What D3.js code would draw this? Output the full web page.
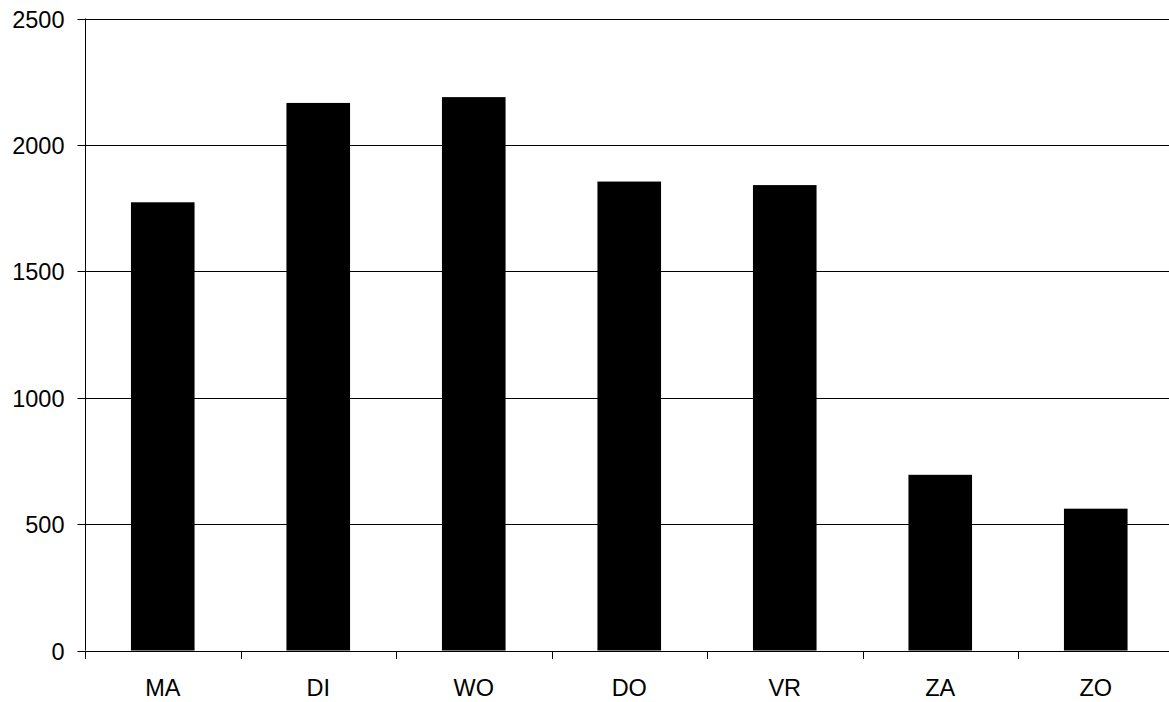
<!DOCTYPE html>
<html><head><meta charset="utf-8">
<script src="https://cdn.jsdelivr.net/npm/d3@7"></script>
<style>html,body{margin:0;padding:0;background:#fff;}svg{display:block;}</style>
</head><body>
<svg id="c" width="1169" height="702"></svg>
<script>
const categories = ["MA","DI","WO","DO","VR","ZA","ZO"];
const values = [1773, 2166, 2189, 1855, 1841, 695, 561];
const yTicks = [0, 500, 1000, 1500, 2000, 2500];

(function () {
const svg = d3.select("#c");
const mLeft = 85, mTop = 18.5, mBottom = 650.5, mRight = 85 + 155.5 * 7;
const font = "Liberation Sans, Arial, sans-serif";
const fs = 23.5;

const y = d3.scaleLinear().domain([0, 2500]).range([mBottom, mTop]);
const x = d3.scaleBand().domain(categories).range([mLeft, mRight]).paddingInner(0.591).paddingOuter(0.2955);

// gridlines
svg.append("g").selectAll("line").data(yTicks.filter(d => d > 0)).join("line")
  .attr("x1", mLeft).attr("x2", 1169)
  .attr("y1", d => Math.round(y(d)) + 0.5).attr("y2", d => Math.round(y(d)) + 0.5)
  .attr("stroke", "#000").attr("stroke-width", 1);

// bars
svg.append("g").selectAll("rect").data(values).join("rect")
  .attr("x", (d, i) => x(categories[i]))
  .attr("width", x.bandwidth())
  .attr("y", d => y(d))
  .attr("height", d => y(0) - y(d))
  .attr("fill", "#000");

// y axis
const yAxis = d3.axisLeft(y).tickValues(yTicks).tickSize(8).tickPadding(13).tickFormat(d3.format("d"));
const gy = svg.append("g").attr("transform", `translate(${mLeft + 0.5},0)`).call(yAxis);
gy.select(".domain").attr("d", `M0,${y(2500)}V${y(0)}`).attr("stroke", "#000");
gy.selectAll(".tick").attr("transform", d => `translate(0,${Math.round(y(d)) + 0.5})`);
gy.selectAll(".tick line").attr("stroke", "#000");
gy.selectAll("text").attr("font-family", font).attr("font-size", fs).attr("fill", "#000").attr("dy", "0.36em");

// x axis
const gx = svg.append("g").attr("transform", `translate(0,${Math.round(mBottom)})`);
gx.append("line").attr("x1", mLeft).attr("x2", 1169).attr("y1", 0.5).attr("y2", 0.5).attr("stroke", "#000");
const bounds = d3.range(categories.length + 1).map(i => mLeft + i * x.step());
gx.selectAll("line.tk").data(bounds).join("line").attr("class", "tk")
  .attr("x1", d => Math.round(d) + 0.5).attr("x2", d => Math.round(d) + 0.5)
  .attr("y1", 0).attr("y2", 8).attr("stroke", "#000");
gx.selectAll("text").data(categories).join("text")
  .attr("x", d => x(d) + x.bandwidth() / 2)
  .attr("y", 44.5)
  .attr("text-anchor", "middle")
  .attr("font-family", font).attr("font-size", fs).attr("fill", "#000")
  .text(d => d);
})();
</script>
</body></html>
